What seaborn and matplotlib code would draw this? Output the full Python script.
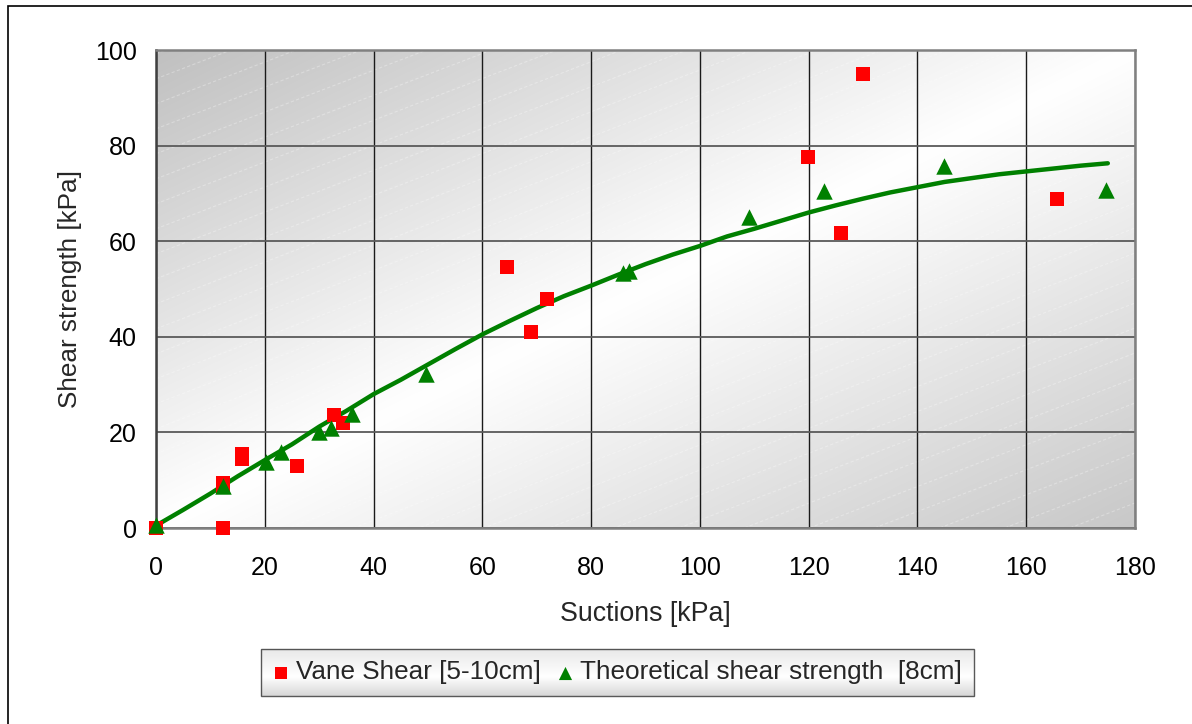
import numpy as np
import pandas as pd
import matplotlib
matplotlib.use("Agg")
import matplotlib.pyplot as plt
import seaborn as sns
from matplotlib.patches import Rectangle
from matplotlib.collections import LineCollection

# Vane shear measurements, 5-10 cm depth
vane_suction = [0, 12.3, 12.3, 12.3, 15.9, 15.9, 25.9, 32.7, 34.4,
                64.5, 68.9, 71.8, 119.8, 126.0, 130.0, 165.7]
vane_strength = [0, 0, 8.5, 9.5, 14.5, 15.5, 12.9, 23.6, 22.0,
                 54.7, 40.9, 48.0, 77.7, 61.8, 95.0, 68.9]

# Theoretical shear strength at 8 cm
theo_suction = [0, 12.3, 20.3, 22.9, 29.9, 32.1, 36.1, 49.7,
                85.9, 87.0, 109.0, 122.8, 144.8, 174.7]
theo_strength = [0.6, 8.8, 13.9, 15.8, 20.0, 20.9, 23.8, 32.3,
                 53.3, 53.7, 65.0, 70.6, 75.8, 70.7]

# Fitted theoretical curve
curve_suction = [0, 5, 10, 15, 20, 25, 30, 35, 40, 45, 50, 55, 60, 65, 70, 75,
                 80, 85, 90, 95, 100, 105, 110, 115, 120, 125, 130, 135, 140,
                 145, 150, 155, 160, 165, 170, 175]
curve_strength = [0.5, 3.8, 7.2, 10.8, 14.2, 17.5, 21.2, 24.5, 28.0, 31.0, 34.2,
                  37.4, 40.5, 43.3, 46.0, 48.5, 50.7, 53.0, 55.2, 57.2, 59.0,
                  61.0, 62.6, 64.3, 66.0, 67.5, 68.9, 70.2, 71.3, 72.4, 73.2,
                  74.0, 74.6, 75.2, 75.8, 76.3]

x_ticks = [0, 20, 40, 60, 80, 100, 120, 140, 160, 180]
y_ticks = [0, 20, 40, 60, 80, 100]

vane = pd.DataFrame({"suction": vane_suction, "strength": vane_strength})
theo = pd.DataFrame({"suction": theo_suction, "strength": theo_strength})
curve = pd.DataFrame({"suction": curve_suction, "strength": curve_strength})

sns.set_style("white")
plt.rcParams["font.family"] = ["Liberation Sans", "DejaVu Sans"]

W, H = 1192, 724
fig = plt.figure(figsize=(W / 100, H / 100), dpi=100)
fig.patch.set_facecolor("white")
ax = fig.add_axes([156 / W, 1 - 528 / H, (1135 - 156) / W, (528 - 50) / H])
px_w, px_h = 1135 - 156, 528 - 50

# plot-area fill: grey corners fading to white along the anti-diagonal
ny, nx = 240, 490
u = np.linspace(0, 1, nx)[None, :]
v = np.linspace(0, 1, ny)[:, None]
t = (u + v) / 2
shade = np.where(t < 0.5, 192 + 63 * (t / 0.5), 255 - 55 * ((t - 0.5) / 0.5)) / 255
img = np.dstack([shade, shade, shade])
ax.imshow(img, extent=[0, 1, 0, 1], transform=ax.transAxes, aspect="auto",
          zorder=0, interpolation="bilinear")

# faint diagonal texture rising to the right
slope = np.tan(np.radians(21))
segs = []
for c in np.arange(-slope * px_w, px_h + 25, 25):
    segs.append([(0, c / px_h), (1, (c + slope * px_w) / px_h)])
tex = LineCollection(segs, colors="white", linewidths=0.8, alpha=0.3,
                     linestyles=(0, (3, 2)), transform=ax.transAxes, zorder=0.2)
ax.add_collection(tex)

sns.lineplot(data=curve, x="suction", y="strength", ax=ax, color="#008000",
             linewidth=3.2, legend=False, zorder=3)
sns.scatterplot(data=vane, x="suction", y="strength", ax=ax, marker="s",
                color="#FF0000", s=100, linewidth=0, zorder=4, clip_on=False,
                label="Vane Shear [5-10cm]")
sns.scatterplot(data=theo, x="suction", y="strength", ax=ax, marker="^",
                color="#008000", s=140, linewidth=0, zorder=5, clip_on=False,
                label="Theoretical shear strength  [8cm]")

ax.set_xlim(0, 180)
ax.set_ylim(0, 100)
ax.set_xticks(x_ticks)
ax.set_yticks(y_ticks)
ax.set_axisbelow(True)
ax.xaxis.grid(True, color="#1a1a1a", linewidth=1.0)
ax.yaxis.grid(True, color="#5a5a5a", linewidth=1.3)
for side in ["top", "right", "bottom"]:
    ax.spines[side].set_color("#808080")
    ax.spines[side].set_linewidth(1.8)
ax.spines["left"].set_color("#404040")
ax.spines["left"].set_linewidth(1.8)
ax.tick_params(axis="both", which="major", direction="out", length=6,
               width=1.0, color="#404040", labelsize=18, labelcolor="black")
ax.tick_params(axis="x", pad=14)
ax.tick_params(axis="y", pad=8)
ax.set_xlabel("Suctions [kPa]", fontsize=19.3, labelpad=15)
ax.set_ylabel("Shear strength [kPa]", fontsize=18.8, labelpad=9)

leg = ax.legend(loc="center", bbox_to_anchor=(617.5 / W, 1 - 672.5 / H),
                bbox_transform=fig.transFigure, ncol=2, fontsize=18.8,
                frameon=True, fancybox=False, handlelength=0.6,
                handletextpad=0.3, columnspacing=0.6, borderpad=0.45,
                markerscale=0.8)
frame = leg.get_frame()
frame.set_edgecolor("#303030")
frame.set_linewidth(1.0)
frame.set_facecolor("none")

# outer chart border
fig.add_artist(Rectangle((8 / W, -0.05), 1.1, 1 - 6 / H + 0.05,
                         transform=fig.transFigure, fill=False,
                         edgecolor="black", linewidth=1.2))

# soft grey band behind the legend
fig.canvas.draw()
bb = leg.get_window_extent().transformed(fig.transFigure.inverted())
bax = fig.add_axes([bb.x0, bb.y0, bb.width, bb.height], zorder=-1)
vv = np.linspace(0, 1, 64)[:, None]
band = np.where(vv < 0.6, 232 + 23 * (vv / 0.6), 255 - 40 * ((vv - 0.6) / 0.4)) / 255
band = np.repeat(band, 8, axis=1)
bax.imshow(np.dstack([band, band, band]), aspect="auto", extent=[0, 1, 0, 1])
bax.set_axis_off()
ax.set_zorder(1)
ax.patch.set_alpha(0)

fig.savefig("out.png", dpi=100)
